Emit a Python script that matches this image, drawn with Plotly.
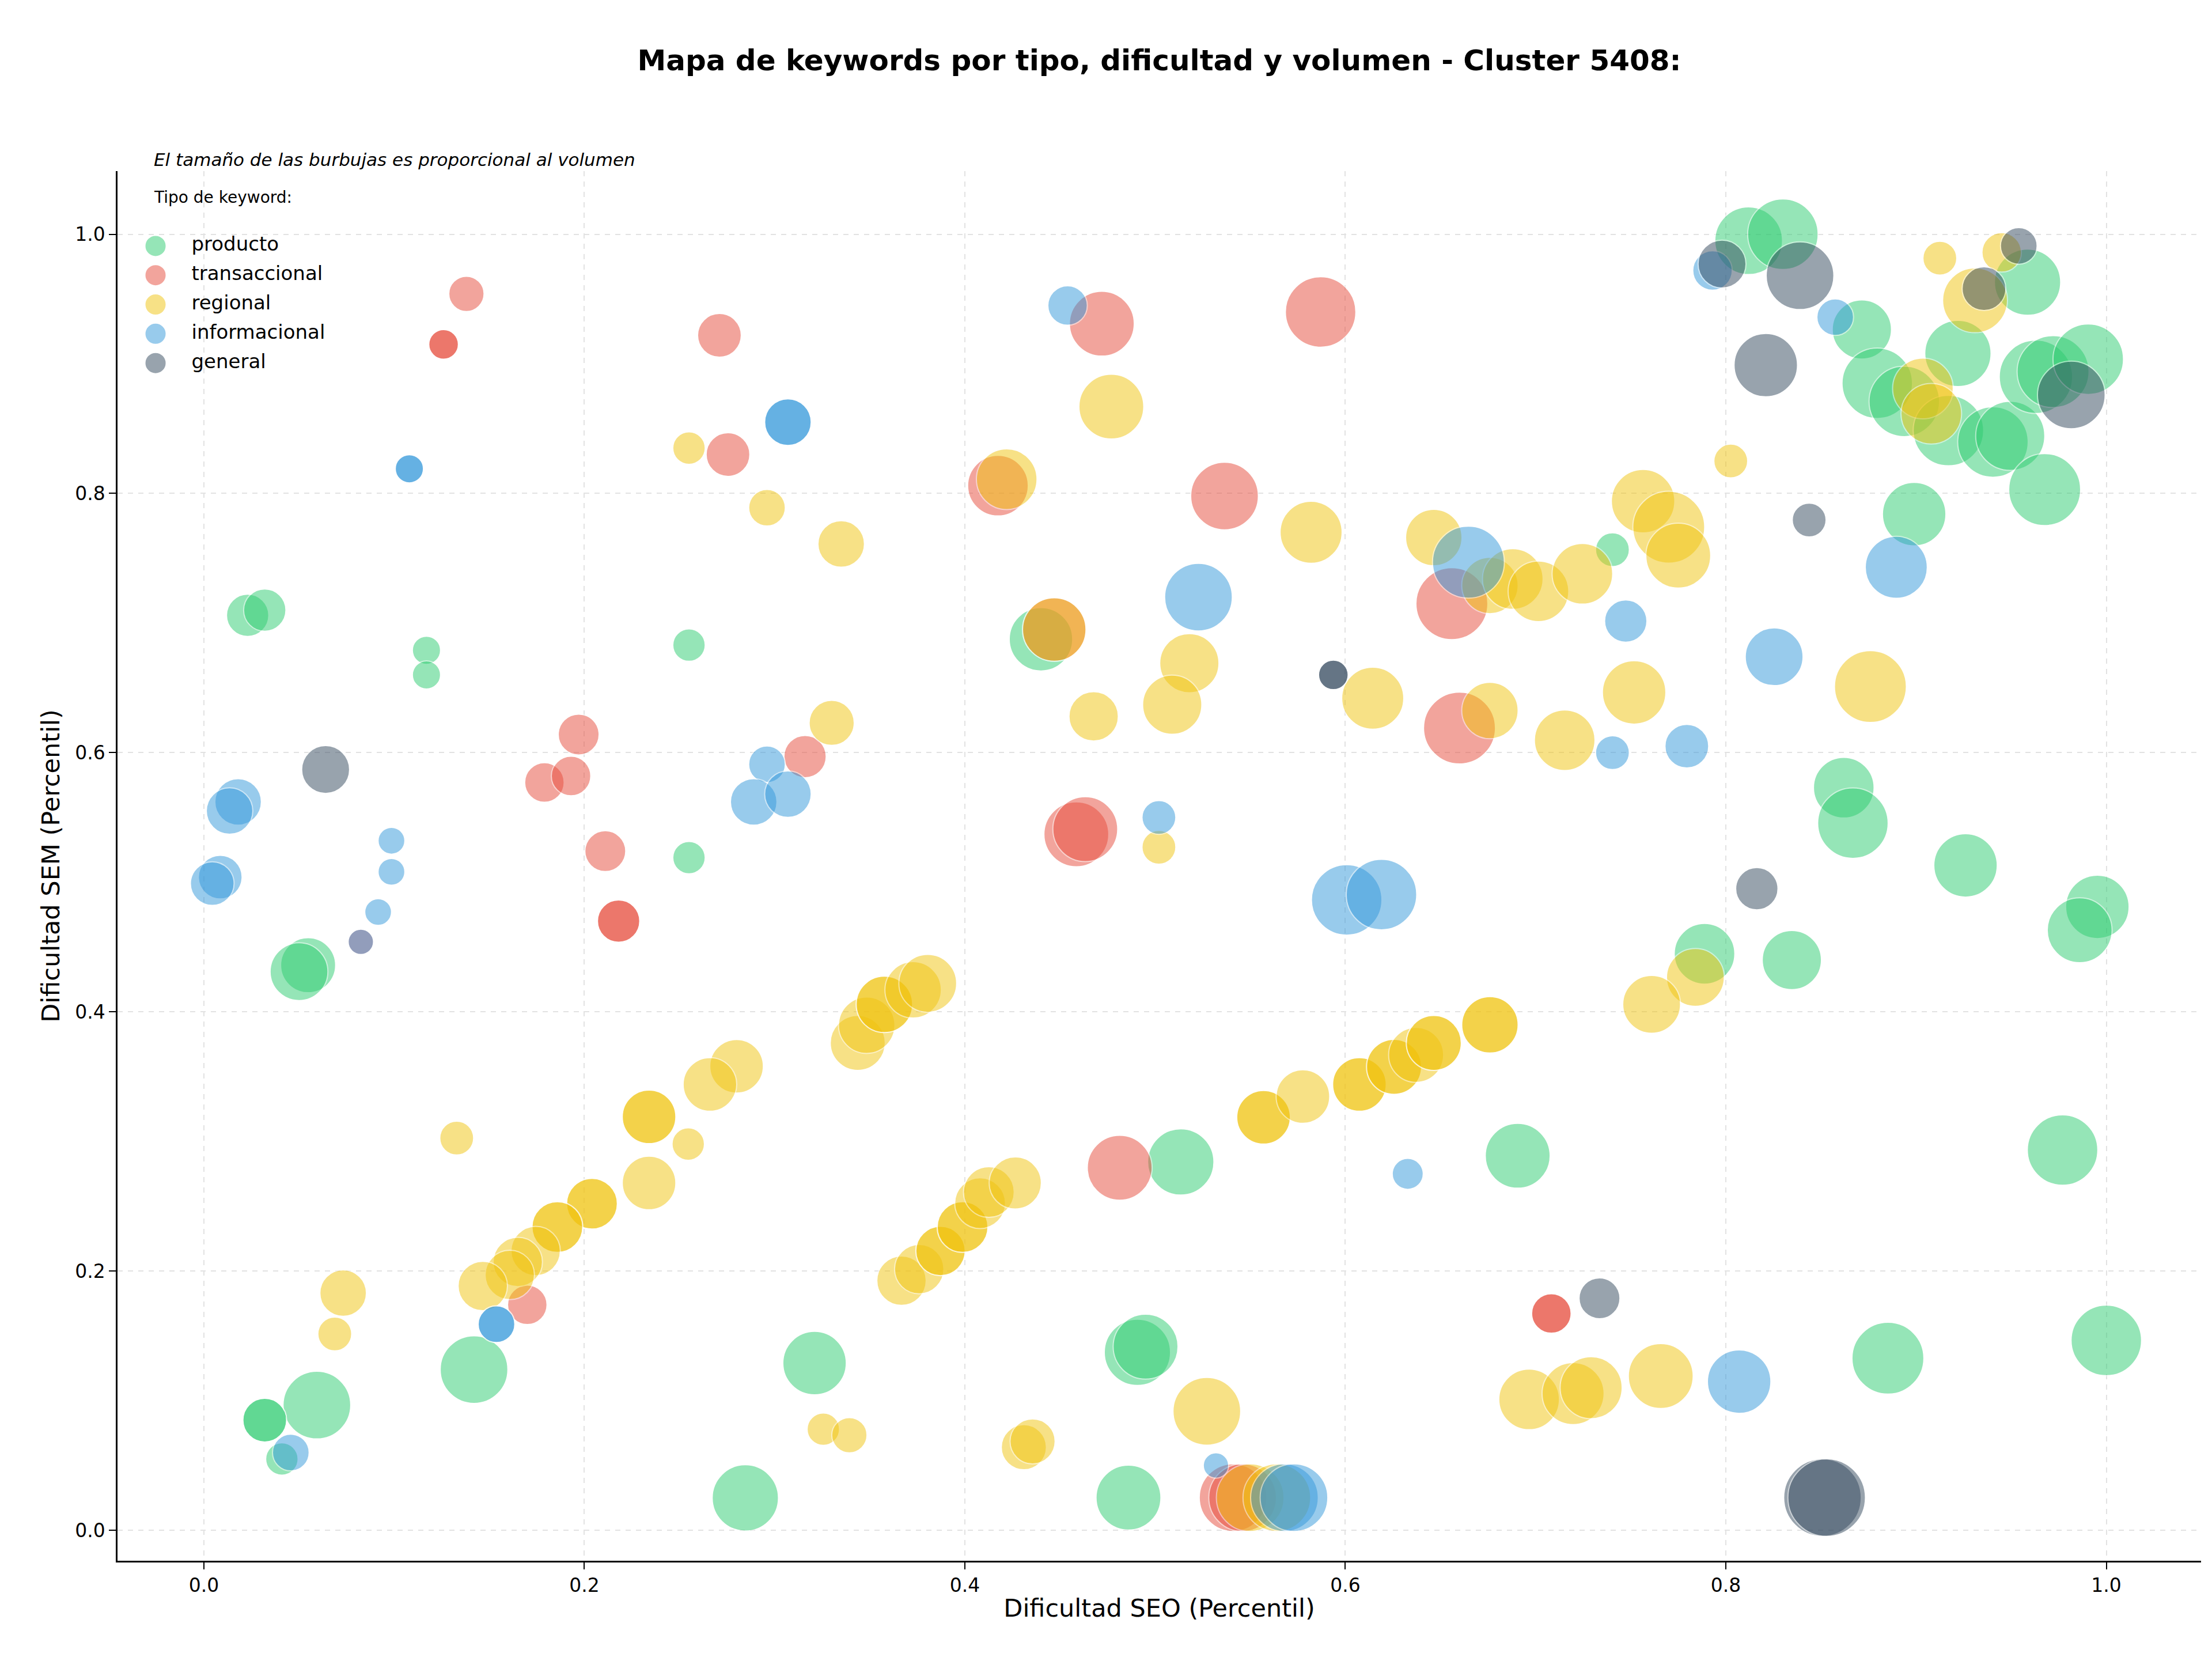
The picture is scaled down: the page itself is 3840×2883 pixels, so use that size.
import plotly.graph_objects as go

# Tipos de keyword y colores
tipos = ['producto', 'transaccional', 'regional', 'informacional', 'general']
colores = {
    'producto': '#2ecc71',
    'transaccional': '#e74c3c',
    'regional': '#f1c40f',
    'informacional': '#3498db',
    'general': '#34495e',
}

# Dificultad SEO (x), dificultad SEM (y) y volumen (relativo) por tipo
producto_seo = [0.023, 0.032, 0.117, 0.117, 0.255, 0.255, 0.0548, 0.050, 0.142, 0.0594,
                0.032, 0.032, 0.041, 0.2846, 0.321, 0.440, 0.5135, 0.6906, 0.4907, 0.495,
                0.486, 0.812, 0.830, 0.8715, 0.9586, 0.922, 0.8796, 0.8938, 0.917, 0.9404,
                0.9495, 0.963, 0.972, 0.9905, 0.9676, 0.899, 0.7404, 0.862, 0.8668, 0.926,
                0.9953, 0.986, 0.7888, 0.8347, 0.977, 0.8852, 1.0]
producto_sem = [0.706, 0.710, 0.679, 0.660, 0.683, 0.519, 0.436, 0.431, 0.124, 0.0966,
                0.085, 0.085, 0.055, 0.025, 0.129, 0.6875, 0.2842, 0.289, 0.1373, 0.1417,
                0.0252, 0.995, 1.0, 0.9265, 0.963, 0.908, 0.885, 0.871, 0.8485, 0.8397,
                0.8444, 0.890, 0.894, 0.9036, 0.803, 0.784, 0.7566, 0.573, 0.5456, 0.513,
                0.481, 0.463, 0.4448, 0.440, 0.2934, 0.1328, 0.1465]
producto_vol = [900, 900, 400, 400, 529, 529, 1521, 1681, 2304, 2304,
                961, 961, 529, 2209, 2025, 2025, 2209, 2116, 2209, 2116,
                2116, 2304, 2500, 1764, 2209, 2209, 2500, 2500, 2500, 2500,
                2401, 2704, 2601, 2500, 2601, 2025, 576, 1849, 2500, 2025,
                2025, 2116, 1849, 1764, 2500, 2601, 2500]

transaccional_seo = [0.138, 0.126, 0.126, 0.271, 0.2755, 0.197, 0.179, 0.193, 0.211, 0.316,
                     0.218, 0.218, 0.170, 0.472, 0.587, 0.4174, 0.5365, 0.656, 0.447, 0.660,
                     0.4586, 0.4633, 0.4814, 0.7083, 0.7083, 0.541, 0.546, 0.0825]
transaccional_sem = [0.954, 0.915, 0.915, 0.922, 0.830, 0.614, 0.577, 0.582, 0.524, 0.597,
                     0.470, 0.470, 0.174, 0.931, 0.940, 0.806, 0.798, 0.715, 0.695, 0.619,
                     0.537, 0.541, 0.2797, 0.1673, 0.1673, 0.0252, 0.0252, 0.454]
transaccional_vol = [625, 441, 441, 961, 961, 841, 784, 784, 841, 900,
                     900, 900, 784, 2116, 2500, 1849, 2304, 2601, 2025, 2601,
                     2116, 2116, 2116, 784, 784, 2304, 2304, 324]

regional_seo = [0.255, 0.296, 0.335, 0.330, 0.477, 0.422, 0.582, 0.6465, 0.676, 0.688,
                0.7015, 0.7246, 0.447, 0.518, 0.509, 0.4677, 0.6144, 0.676, 0.502, 0.7565,
                0.770, 0.775, 0.7518, 0.7153, 0.876, 0.8026, 0.9125, 0.945, 0.931, 0.9036,
                0.908, 0.784, 0.761, 0.1329, 0.280, 0.266, 0.234, 0.234, 0.2546, 0.234,
                0.204, 0.204, 0.1858, 0.1858, 0.1744, 0.165, 0.1608, 0.1466, 0.0732, 0.0688,
                0.3437, 0.3484, 0.3577, 0.3577, 0.3728, 0.3805, 0.3667, 0.376, 0.3872, 0.3872,
                0.3988, 0.3988, 0.408, 0.4126, 0.4265, 0.557, 0.557, 0.5777, 0.6074, 0.6074,
                0.6256, 0.6256, 0.6372, 0.6465, 0.6465, 0.676, 0.676, 0.5272, 0.3256, 0.3393,
                0.431, 0.4356, 0.6966, 0.7197, 0.7292, 0.7658, 0.550, 0.564]
regional_sem = [0.835, 0.789, 0.761, 0.623, 0.867, 0.811, 0.770, 0.766, 0.729, 0.734,
                0.7245, 0.738, 0.695, 0.669, 0.637, 0.628, 0.642, 0.6325, 0.527, 0.794,
                0.774, 0.752, 0.6465, 0.6096, 0.651, 0.825, 0.9815, 0.986, 0.949, 0.881,
                0.8615, 0.4266, 0.4058, 0.3026, 0.358, 0.344, 0.319, 0.319, 0.298, 0.268,
                0.252, 0.252, 0.234, 0.234, 0.2155, 0.207, 0.197, 0.1885, 0.183, 0.1515,
                0.376, 0.3897, 0.4058, 0.4058, 0.417, 0.422, 0.1926, 0.2015, 0.2155, 0.2155,
                0.234, 0.234, 0.2524, 0.261, 0.268, 0.3187, 0.3187, 0.3347, 0.344, 0.344,
                0.3576, 0.3576, 0.3668, 0.376, 0.376, 0.390, 0.390, 0.0918, 0.078, 0.0734,
                0.0641, 0.0686, 0.101, 0.1055, 0.110, 0.119, 0.0252, 0.0252]
regional_vol = [529, 676, 1089, 1024, 2116, 1849, 1936, 1600, 1600, 1849,
                1849, 1849, 2025, 1764, 1764, 1225, 1936, 1600, 576, 2025,
                2601, 2116, 2025, 1849, 2601, 576, 576, 784, 2116, 1849,
                1849, 1681, 1681, 576, 1444, 1444, 1444, 1444, 529, 1444,
                1296, 1296, 1296, 1296, 1225, 1225, 1225, 1225, 1089, 576,
                1521, 1600, 1600, 1600, 1600, 1681, 1225, 1225, 1225, 1225,
                1296, 1296, 1296, 1296, 1369, 1444, 1444, 1444, 1444, 1444,
                1521, 1521, 1521, 1521, 1521, 1600, 1600, 2304, 529, 625,
                1024, 1024, 1849, 1936, 1936, 2116, 2304, 2304]

informacional_seo = [0.307, 0.307, 0.108, 0.108, 0.018, 0.0135, 0.0986, 0.0986, 0.0916, 0.0086,
                     0.0044, 0.296, 0.289, 0.307, 0.1538, 0.1538, 0.0457, 0.454, 0.6647, 0.5228,
                     0.502, 0.6007, 0.619, 0.6328, 0.532, 0.568, 0.573, 0.793, 0.8575, 0.8896,
                     0.7474, 0.8254, 0.7404, 0.7795, 0.807, 0.0825]
informacional_sem = [0.855, 0.855, 0.819, 0.819, 0.562, 0.555, 0.532, 0.508, 0.477, 0.504,
                     0.499, 0.591, 0.562, 0.568, 0.159, 0.159, 0.060, 0.945, 0.747, 0.720,
                     0.550, 0.4864, 0.4905, 0.275, 0.050, 0.0252, 0.0252, 0.972, 0.936, 0.743,
                     0.7015, 0.674, 0.600, 0.605, 0.1147, 0.454]
informacional_vol = [1089, 1089, 400, 400, 1089, 1089, 361, 361, 361, 961,
                     961, 676, 1089, 1089, 676, 676, 676, 784, 2601, 2304,
                     576, 2500, 2500, 484, 324, 2304, 2304, 784, 676, 1936,
                     900, 1681, 576, 961, 2025, 324]

general_seo = [0.064, 0.5937, 0.5937, 0.798, 0.839, 0.821, 0.954, 0.9357, 0.9816, 0.8438,
               0.8163, 0.7336, 0.8508, 0.853]
general_sem = [0.587, 0.660, 0.660, 0.977, 0.968, 0.899, 0.991, 0.958, 0.876, 0.7795,
               0.495, 0.179, 0.0252, 0.0252]
general_vol = [1156, 441, 441, 1156, 2304, 2025, 676, 961, 2304, 576,
               900, 841, 3025, 3025]

datos = {
    'producto': (producto_seo, producto_sem, producto_vol),
    'transaccional': (transaccional_seo, transaccional_sem, transaccional_vol),
    'regional': (regional_seo, regional_sem, regional_vol),
    'informacional': (informacional_seo, informacional_sem, informacional_vol),
    'general': (general_seo, general_sem, general_vol),
}

ticks = [0.0, 0.2, 0.4, 0.6, 0.8, 1.0]
tick_labels = ['0.0', '0.2', '0.4', '0.6', '0.8', '1.0']

# px de diametro por raiz del volumen
escala = 2.449
sizeref = 2.0 / escala ** 2

fig = go.Figure()
for tipo in tipos:
    seo, sem, vol = datos[tipo]
    fig.add_trace(go.Scatter(
        x=seo, y=sem, mode='markers', name=tipo, showlegend=False,
        marker=dict(
            size=vol, sizemode='area', sizeref=sizeref,
            color=colores[tipo], opacity=0.5,
            line=dict(color='white', width=2)
        )
    ))

# leyenda con circulos grandes (la de plotly limita el tamano del simbolo)
filas = list(range(len(tipos)))
fig.add_trace(go.Scatter(
    x=[0] * len(tipos), y=filas, mode='markers', xaxis='x2', yaxis='y2',
    showlegend=False, hoverinfo='skip',
    marker=dict(size=37, color=[colores[t] for t in tipos], opacity=0.5,
                line=dict(color='white', width=2))
))
fig.add_trace(go.Scatter(
    x=[1] * len(tipos), y=filas, mode='text', xaxis='x2', yaxis='y2',
    text=tipos, textposition='middle right', showlegend=False, hoverinfo='skip',
    textfont=dict(size=34, color='black')
))

eje = dict(
    tickvals=ticks, ticktext=tick_labels,
    showline=True, linecolor='black', linewidth=2.5,
    ticks='outside', ticklen=12, tickwidth=2, tickcolor='black',
    showgrid=True, gridcolor='#e2e2e2', gridwidth=2, griddash='dash',
    zeroline=False, tickfont=dict(size=33, color='black'),
)

fig.update_layout(
    width=3840, height=2883,
    paper_bgcolor='white', plot_bgcolor='rgba(0,0,0,0)',
    font=dict(family='DejaVu Sans', color='black'),
    margin=dict(l=196, r=27, t=289, b=182),
    title=dict(
        text='<b>Mapa de keywords por tipo, dificultad y volumen - Cluster 5408:</b>',
        x=0.5, xref='paper', xanchor='center',
        y=1 - 96 / 2883, yanchor='middle',
        font=dict(size=50, color='black')
    ),
    xaxis=dict(eje, range=[-0.0454, 1.0498],
               title=dict(text='Dificultad SEO (Percentil)', font=dict(size=43), standoff=6)),
    yaxis=dict(eje, range=[-0.0235, 1.0487],
               title=dict(text='Dificultad SEM (Percentil)', font=dict(size=43), standoff=14)),
    xaxis2=dict(domain=[0, 0.2], range=[-1.058, 10.53], visible=False, anchor='y2'),
    yaxis2=dict(domain=[0.8408, 0.9672], range=[5, -1], visible=False, anchor='x2'),
    showlegend=False,
)

fig.add_annotation(
    text='<i>El tamaño de las burbujas es proporcional al volumen</i>',
    xref='paper', yref='paper', x=0.017, y=1.0, xanchor='left', yanchor='bottom',
    showarrow=False, font=dict(size=31, color='black')
)
fig.add_annotation(
    text='Tipo de keyword:',
    xref='paper', yref='paper', x=0.017, y=0.981, xanchor='left', yanchor='middle',
    showarrow=False, font=dict(size=28, color='black')
)

fig.write_html('out.html')
